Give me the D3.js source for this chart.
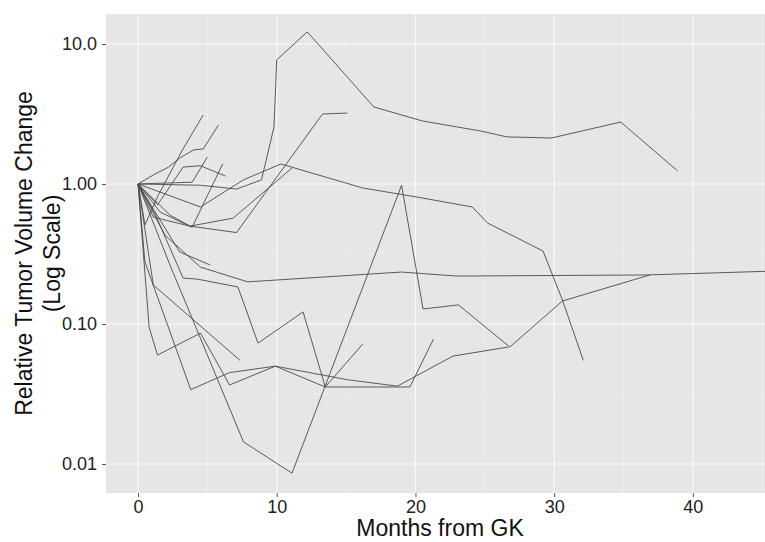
<!DOCTYPE html>
<html>
<head>
<meta charset="utf-8">
<script src="https://cdn.jsdelivr.net/npm/d3@7"></script>
<style>
  body { margin: 0; background: #fff; }
  svg { display: block; font-family: "Liberation Sans", Arial, sans-serif; }
</style>
</head>
<body>
<div id="chart"></div>
<script>
// one array per patient: [months from GK, relative tumor volume]
var patient01 = [[0,1],[4.5,0.98],[7.1,0.92],[8.9,1.07],[9.8,2.55],[10.0,7.7],[12.2,12.2],[17.0,3.55],[20.5,2.82],[24.7,2.39],[26.6,2.17],[29.8,2.13],[34.8,2.77],[38.9,1.24]];
var patient02 = [[0,1],[1.1,0.58],[3.75,0.50],[7.1,0.45],[13.3,3.16],[15.1,3.21]];
var patient03 = [[0,1],[4.5,0.685],[7.6,1.07],[10.3,1.39],[16.2,0.936],[20.1,0.807],[24.1,0.685],[25.2,0.526],[29.2,0.332],[30.6,0.148],[32.1,0.055]];
var patient04 = [[0,1],[2.3,0.60],[3.75,0.50],[6.85,0.57],[11.1,1.30]];
var patient05 = [[0,1],[1.6,0.63],[3.9,0.49],[6.1,1.39]];
var patient06 = [[0,1],[3.9,1.03],[5.0,1.56]];
var patient07 = [[0,1],[1.1,1.16],[2.2,1.32],[3.0,1.53],[4.0,1.75],[4.7,1.78],[5.8,2.64]];
var patient08 = [[0,1],[0.5,0.51],[1.4,0.81],[3.2,1.75],[4.7,3.11]];
var patient09 = [[0,1],[1.4,0.71],[3.25,1.32],[4.5,1.35],[6.3,1.14]];
var patient10 = [[0,1],[3.0,0.327],[5.2,0.264]];
var patient11 = [[0,1],[1.95,0.43],[4.5,0.255],[7.9,0.20],[19.0,0.235],[23.0,0.22],[36.7,0.224],[46.5,0.24]];
var patient12 = [[0,1],[1.2,0.62],[3.25,0.213],[4.3,0.209],[7.2,0.184],[8.65,0.073],[11.9,0.122],[13.5,0.0355],[19.6,0.0355],[21.3,0.078]];
var patient13 = [[0,1],[2.3,0.264],[7.6,0.0144],[11.1,0.0086],[19.0,0.98],[20.55,0.128],[23.1,0.137],[26.8,0.0685],[30.6,0.146],[36.9,0.224]];
var patient14 = [[0,1],[0.8,0.095],[1.4,0.060],[4.5,0.086],[6.6,0.0367],[9.9,0.050],[15.1,0.040],[18.7,0.036],[22.7,0.059],[26.7,0.0685]];
var patient15 = [[0,1],[0.5,0.277],[3.8,0.034],[6.6,0.045],[9.9,0.050],[13.5,0.0355],[16.2,0.072]];
var patient16 = [[0,1],[1.1,0.19],[7.35,0.055]];

var patients = [patient01, patient02, patient03, patient04, patient05, patient06, patient07, patient08,
  patient09, patient10, patient11, patient12, patient13, patient14, patient15, patient16];

var xTicks = [0, 10, 20, 30, 40];
var xMinor = [5, 15, 25, 35, 45];
var yTicks = [0.01, 0.1, 1, 10];
var yTickLabels = ["0.01", "0.10", "1.00", "10.0"];
var yMinor = [0.0316, 0.316, 3.16];

// set the dimensions of the panel
var W = 765, H = 542;
var panel = { left: 106, right: 774, top: 14, bottom: 493 };

var x = d3.scaleLinear().domain([-2.31, 45.85]).range([panel.left, panel.right]);
var y = d3.scaleLog().domain([0.00621, 16.37]).range([panel.bottom, panel.top]);

var svg = d3.select("#chart").append("svg").attr("width", W).attr("height", H);

svg.append("defs").append("clipPath").attr("id", "clip")
  .append("rect").attr("x", panel.left).attr("y", panel.top)
  .attr("width", panel.right - panel.left).attr("height", panel.bottom - panel.top);

svg.append("rect").attr("x", panel.left).attr("y", panel.top)
  .attr("width", panel.right - panel.left).attr("height", panel.bottom - panel.top)
  .attr("fill", "#e6e6e6");

// grid, minor first then major
var grid = svg.append("g").attr("clip-path", "url(#clip)");
grid.selectAll(".xminor").data(xMinor).enter().append("line")
  .attr("x1", d => x(d)).attr("x2", d => x(d)).attr("y1", panel.top).attr("y2", panel.bottom)
  .attr("stroke", "#f3f3f3").attr("stroke-width", 0.6);
grid.selectAll(".yminor").data(yMinor).enter().append("line")
  .attr("y1", d => y(d)).attr("y2", d => y(d)).attr("x1", panel.left).attr("x2", panel.right)
  .attr("stroke", "#f3f3f3").attr("stroke-width", 0.6);
grid.selectAll(".xmajor").data(xTicks).enter().append("line")
  .attr("x1", d => x(d)).attr("x2", d => x(d)).attr("y1", panel.top).attr("y2", panel.bottom)
  .attr("stroke", "#fafafa").attr("stroke-width", 1.1);
grid.selectAll(".ymajor").data(yTicks).enter().append("line")
  .attr("y1", d => y(d)).attr("y2", d => y(d)).attr("x1", panel.left).attr("x2", panel.right)
  .attr("stroke", "#fafafa").attr("stroke-width", 1.1);

var line = d3.line().x(d => x(d[0])).y(d => y(d[1]));

svg.append("g").attr("clip-path", "url(#clip)")
  .selectAll("path").data(patients).enter().append("path")
  .attr("d", line)
  .attr("fill", "none")
  .attr("stroke", "#4a4a4a")
  .attr("stroke-width", 0.9)
  .attr("stroke-linejoin", "round");

// axes
var xAxis = svg.append("g").attr("transform", "translate(0," + panel.bottom + ")")
  .call(d3.axisBottom(x).tickValues(xTicks).tickSize(4).tickPadding(3).tickFormat(d3.format("d")));
var yAxis = svg.append("g").attr("transform", "translate(" + panel.left + ",0)")
  .call(d3.axisLeft(y).tickValues(yTicks).tickSize(4).tickPadding(5)
    .tickFormat((d, i) => yTickLabels[i]));

[xAxis, yAxis].forEach(function (a) {
  a.select(".domain").remove();
  a.selectAll(".tick line").attr("stroke", "#555");
  a.selectAll(".tick text").attr("fill", "#222").style("font-size", "18px")
    .style("font-family", "'Liberation Sans', Arial, sans-serif");
});

svg.append("text")
  .attr("x", (panel.left + panel.right) / 2).attr("y", 536)
  .attr("text-anchor", "middle").attr("fill", "#111")
  .style("font-size", "23px")
  .text("Months from GK");

var yTitle = svg.append("text")
  .attr("transform", "translate(32," + ((panel.top + panel.bottom) / 2) + ") rotate(-90)")
  .attr("text-anchor", "middle").attr("fill", "#111")
  .style("font-size", "23px");
yTitle.append("tspan").attr("x", 0).attr("y", 0).text("Relative Tumor Volume Change");
yTitle.append("tspan").attr("x", 0).attr("y", 28).text("(Log Scale)");
</script>
</body>
</html>
